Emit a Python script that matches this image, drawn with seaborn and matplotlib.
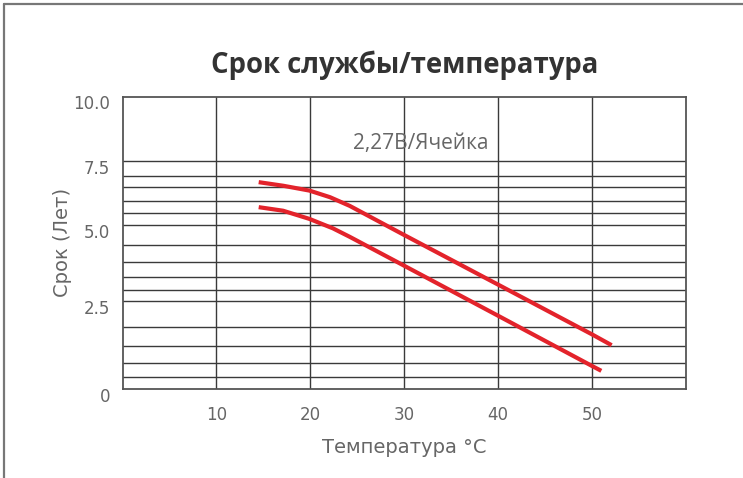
import numpy as np
import pandas as pd
import matplotlib.pyplot as plt
import matplotlib.transforms as mtransforms
from matplotlib.lines import Line2D
import seaborn as sns

# chart values
temp_ticks = [10, 20, 30, 40, 50]
life_ticks = [0, 2.5, 5.0, 7.5, 10.0]
life_tick_labels = ["0", "2.5", "5.0", "7.5", "10.0"]
# the original uses a non-linear year axis: where each tick sits (fraction of height)
life_tick_pos = [0.0, 0.300, 0.560, 0.778, 1.0]

upper_temp = [14.5, 17.1, 19.9, 22.1, 24.2, 30.0, 40.0, 50.0, 52.1]
upper_life = [6.69, 6.55, 6.36, 6.10, 5.76, 4.68, 3.05, 1.56, 1.25]
lower_temp = [14.5, 17.1, 19.9, 22.4, 24.2, 30.0, 40.0, 50.0, 51.0]
lower_life = [5.71, 5.57, 5.25, 4.90, 4.62, 3.67, 2.09, 0.66, 0.52]

# horizontal rulings of the chart paper (fraction of axes height)
paper_lines = [0.041, 0.089, 0.146, 0.213, 0.300, 0.340, 0.382, 0.433, 0.493,
               0.560, 0.601, 0.644, 0.690, 0.730, 0.778]

sns.set_theme(style="white")
plt.rcParams['font.family'] = ['Open Sans', 'DejaVu Sans']

fig = plt.figure(figsize=(7.43, 4.78), dpi=100)
ax = fig.add_axes([0.165, 0.186, 0.758, 0.612])

def fwd(y):
    return np.interp(y, life_ticks, life_tick_pos)

def inv(f):
    return np.interp(f, life_tick_pos, life_ticks)

ax.set_yscale("function", functions=(fwd, inv))
ax.set_xlim(0, 60)
ax.set_ylim(0, 10)

for f in paper_lines:
    ax.plot([0, 1], [f, f], transform=ax.transAxes, color="#3a3a3a", lw=1.0, zorder=1)
for t in temp_ticks:
    ax.axvline(t, color="#3a3a3a", lw=1.0, zorder=1)

df = pd.concat([
    pd.DataFrame({"temp": upper_temp, "life": upper_life, "curve": "upper"}),
    pd.DataFrame({"temp": lower_temp, "life": lower_life, "curve": "lower"}),
])
sns.lineplot(data=df, x="temp", y="life", units="curve", estimator=None, sort=False,
             color="#e3232b", lw=3, ax=ax, zorder=3,
             solid_joinstyle="round", solid_capstyle="butt")

ax.set_xticks(temp_ticks)
ax.set_yticks(life_ticks)
ax.set_yticklabels(life_tick_labels)
ax.tick_params(axis="both", length=0, labelsize=12, labelcolor="#666666")
ax.tick_params(axis="x", pad=12)
ax.tick_params(axis="y", pad=9)
for lab in ax.get_xticklabels() + ax.get_yticklabels():
    lab.set_family(['Liberation Sans Narrow', 'DejaVu Sans'])
shift = mtransforms.ScaledTranslation(0, -4 / 72, fig.dpi_scale_trans)
for lab in ax.get_yticklabels():
    lab.set_transform(lab.get_transform() + shift)

for s in ax.spines.values():
    s.set_color("#555555")
    s.set_linewidth(1.3)

ax.set_xlabel("Температура °С", fontsize=14, color="#666666", labelpad=10,
              family=['Liberation Sans Narrow', 'DejaVu Sans'])
ax.set_ylabel("Срок (Лет)", fontsize=14, color="#666666", labelpad=1,
              family=['Liberation Sans Narrow', 'DejaVu Sans'])

ax.text(0.53, 0.84, "2,27В/Ячейка", transform=ax.transAxes, ha="center", va="center",
        fontsize=15, color="#666666")

fig.text(0.545, 0.864, "Срок службы/температура", ha="center", va="center",
         fontsize=19.8, fontweight="bold", color="#333333")

# outer frame (top and left edge of the card)
fig.add_artist(Line2D([4 / 743, 1], [1 - 4 / 478, 1 - 4 / 478], transform=fig.transFigure,
                      color="#777777", lw=1.6))
fig.add_artist(Line2D([4 / 743, 4 / 743], [0, 1 - 4 / 478], transform=fig.transFigure,
                      color="#777777", lw=1.6))

plt.savefig("out.png", dpi=100)
